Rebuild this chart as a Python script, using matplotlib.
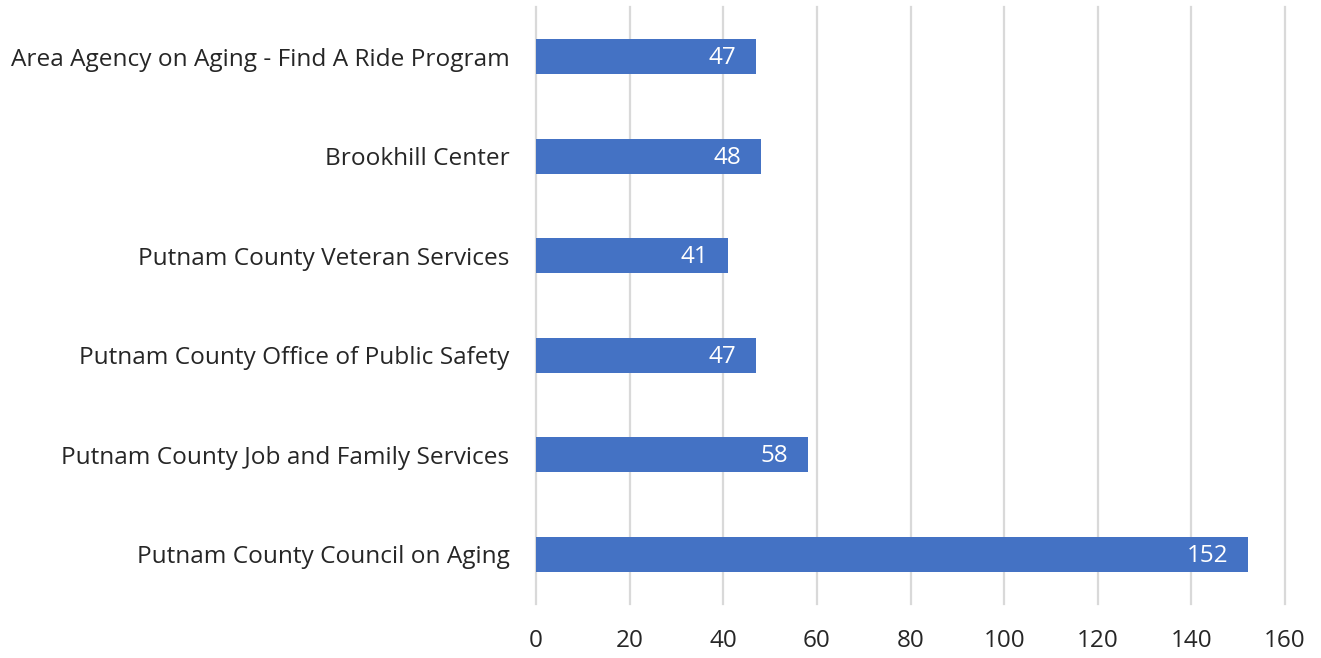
import matplotlib.pyplot as plt

plt.rcParams['font.family'] = ['Open Sans', 'DejaVu Sans']

# data, top to bottom as shown
categories = ['Area Agency on Aging - Find A Ride Program',
              'Brookhill Center',
              'Putnam County Veteran Services',
              'Putnam County Office of Public Safety',
              'Putnam County Job and Family Services',
              'Putnam County Council on Aging']
values = [47, 48, 41, 47, 58, 152]
xticks = [0, 20, 40, 60, 80, 100, 120, 140, 160]

fig = plt.figure(figsize=(13.21, 6.58), dpi=100)
ax = fig.add_axes([536 / 1321, 1 - 604 / 658, (1285 - 536) / 1321, (604 - 7) / 658])

pos = list(range(len(categories)))[::-1]
ax.barh(pos, values, height=0.35, color='#4472C4', zorder=3)
# value labels inside the bar end
for p, v in zip(pos, values):
    ax.annotate(str(v), (v, p), xytext=(-14, -1), textcoords='offset points',
                ha='right', va='center', color='white', fontsize=17.5, zorder=4)

ax.set_yticks(pos)
ax.set_yticklabels(categories, fontsize=17.6, color='#262626')
ax.set_xticks(xticks)
ax.set_xticklabels([str(t) for t in xticks], fontsize=17.5, color='#262626')
ax.set_xlim(0, 160)
ax.set_ylim(-0.5, 5.5)

ax.grid(axis='x', color='#D9D9D9', linewidth=1.6, zorder=0)
for gl in ax.get_xgridlines():
    gl.set_clip_on(False)  # keep the full width of the 0 line
ax.tick_params(axis='y', length=0, pad=19)
ax.tick_params(axis='x', length=0, pad=18)
for s in ax.spines.values():
    s.set_visible(False)

fig.savefig('out.png', dpi=100)
